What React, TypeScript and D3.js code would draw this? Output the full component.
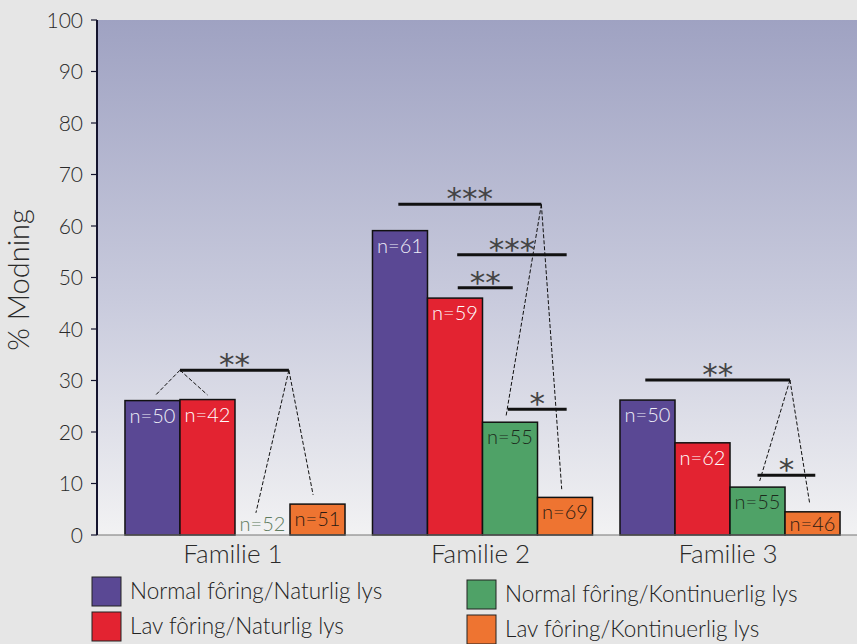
import React from "react";
import * as d3 from "d3";

const groups = ["Familie 1", "Familie 2", "Familie 3"];
const seriesNames = [
  "Normal fôring/Naturlig lys",
  "Lav fôring/Naturlig lys",
  "Normal fôring/Kontinuerlig lys",
  "Lav fôring/Kontinuerlig lys",
];
const seriesColors = ["#5a4894", "#e32331", "#4fa267", "#ee7431"];
const labelColors = ["#eeeef8", "#ffffff", "#1c2a1c", "#2a1a12"];

// % maturation per family for each series
const normalNaturlig = [26.1, 59.1, 26.2];
const lavNaturlig = [26.3, 46.0, 17.9];
const normalKontinuerlig = [0, 21.9, 9.3];
const lavKontinuerlig = [6.0, 7.3, 4.5];
const seriesValues = [normalNaturlig, lavNaturlig, normalKontinuerlig, lavKontinuerlig];

const nNormalNaturlig = ["n=50", "n=61", "n=50"];
const nLavNaturlig = ["n=42", "n=59", "n=62"];
const nNormalKontinuerlig = ["n=52", "n=55", "n=55"];
const nLavKontinuerlig = ["n=51", "n=69", "n=46"];
const seriesN = [nNormalNaturlig, nLavNaturlig, nNormalKontinuerlig, nLavKontinuerlig];

const yTicks = [0, 10, 20, 30, 40, 50, 60, 70, 80, 90, 100];

// significance brackets: group, start/end positions in bar units, level (%), stars
const brackets = [
  { g: 0, x1: 1.0, x2: 2.98, level: 32, stars: "**" },
  { g: 1, x1: 0.47, x2: 3.07, level: 64.2, stars: "***" },
  { g: 1, x1: 1.54, x2: 3.53, level: 54.4, stars: "***" },
  { g: 1, x1: 1.55, x2: 2.55, level: 48.0, stars: "**" },
  { g: 1, x1: 2.46, x2: 3.53, level: 24.4, stars: "*" },
  { g: 2, x1: 0.46, x2: 3.09, level: 30.1, stars: "**" },
  { g: 2, x1: 2.5, x2: 3.55, level: 11.6, stars: "*" },
];
// dashed connectors: group, apex (pos, level) -> end (pos, level)
const connectors = [
  { g: 0, ax: 1.0, ay: 32, bx: 0.56, by: 27.2 },
  { g: 0, ax: 1.0, ay: 32, bx: 1.5, by: 27.2 },
  { g: 0, ax: 2.98, ay: 32, bx: 2.38, by: 4.3 },
  { g: 0, ax: 2.98, ay: 32, bx: 3.42, by: 7.8 },
  { g: 1, ax: 3.07, ay: 64.2, bx: 2.43, by: 23.2 },
  { g: 1, ax: 3.07, ay: 64.2, bx: 3.44, by: 8.9 },
  { g: 2, ax: 3.09, ay: 30.1, bx: 2.54, by: 10.5 },
  { g: 2, ax: 3.09, ay: 30.1, bx: 3.45, by: 6.0 },
];

const W = 857;
const H = 644;
const left = 97;
const top = 20;
const bottom = 535;
const FONT = "Lato, 'Open Sans', sans-serif";

export default function App() {
  const y = d3.scaleLinear().domain([0, 100]).range([bottom, top]);
  const x0 = d3
    .scaleBand<string>()
    .domain(groups)
    .range([left, 868])
    .paddingInner(0.111)
    .paddingOuter(0.113);
  const x1 = d3
    .scaleBand<number>()
    .domain([0, 1, 2, 3])
    .range([0, x0.bandwidth()]);
  const bw = x1.bandwidth();
  const px = (g: number, pos: number) => (x0(groups[g]) as number) + pos * bw;

  return (
    <svg
      width={W}
      height={H}
      style={{ position: "absolute", left: 0, top: 0, background: "#e6e6e6" }}
      fontFamily={FONT}
    >
      <defs>
        <linearGradient id="bg" x1="0" y1="0" x2="0" y2="1">
          <stop offset="0%" stopColor="#9fa2c2" />
          <stop offset="55%" stopColor="#c9cbdd" />
          <stop offset="100%" stopColor="#f2f2f3" />
        </linearGradient>
      </defs>
      <rect x={0} y={0} width={W} height={H} fill="#e6e6e6" />
      <rect x={left} y={top} width={W - left} height={bottom - top} fill="url(#bg)" />

      {/* bars */}
      {groups.map((g, gi) =>
        seriesValues.map((vals, si) => {
          const v = vals[gi];
          const bx = (x0(g) as number) + (x1(si) as number);
          return (
            <rect
              key={`b-${gi}-${si}`}
              x={bx}
              y={y(v)}
              width={bw}
              height={bottom - y(v)}
              fill={seriesColors[si]}
              stroke="#111"
              strokeWidth={1.5}
            />
          );
        })
      )}

      {/* n labels */}
      {groups.map((g, gi) =>
        seriesValues.map((vals, si) => {
          const v = vals[gi];
          const bx = (x0(g) as number) + (x1(si) as number);
          const base = Math.min(y(v) + 22, bottom - 4);
          const col = v < 1 ? "#5e7b5e" : labelColors[si];
          return (
            <text
              key={`n-${gi}-${si}`}
              x={bx + bw / 2}
              y={base}
              textAnchor="middle"
              fontSize={20}
              fontWeight={300}
              fill={col}
            >
              {seriesN[si][gi]}
            </text>
          );
        })
      )}

      {/* axes */}
      <line x1={left} x2={W} y1={bottom} y2={bottom} stroke="#777" strokeWidth={1.2} />
      <line x1={left} x2={left} y1={top} y2={bottom} stroke="#14142e" strokeWidth={2} />
      {yTicks.map((t) => (
        <g key={`t-${t}`}>
          <line x1={left - 6} x2={left} y1={y(t)} y2={y(t)} stroke="#14142e" strokeWidth={1.2} />
          <text x={left - 14} y={y(t) + 7.5} textAnchor="end" fontSize={21} fontWeight={300} fill="#2a2a2a">
            {t}
          </text>
        </g>
      ))}
      <text
        transform={`translate(29, 280) rotate(-90)`}
        textAnchor="middle"
        fontSize={29}
        fontWeight={300}
        fill="#2a2a2a"
      >
        % Modning
      </text>
      {groups.map((g) => (
        <text
          key={`c-${g}`}
          x={(x0(g) as number) + x0.bandwidth() / 2 - 2}
          y={563}
          textAnchor="middle"
          fontSize={26}
          fontWeight={300}
          fill="#2a2a2a"
        >
          {g}
        </text>
      ))}

      {/* connectors */}
      {connectors.map((c, i) => (
        <line
          key={`d-${i}`}
          x1={px(c.g, c.ax)}
          y1={y(c.ay)}
          x2={px(c.g, c.bx)}
          y2={y(c.by)}
          stroke="#111"
          strokeWidth={1}
          strokeDasharray="4,2"
        />
      ))}
      {/* brackets */}
      {brackets.map((b, i) => (
        <g key={`s-${i}`}>
          <line
            x1={px(b.g, b.x1)}
            x2={px(b.g, b.x2)}
            y1={y(b.level)}
            y2={y(b.level)}
            stroke="#111"
            strokeWidth={3}
          />
          <text
            x={(px(b.g, b.x1) + px(b.g, b.x2)) / 2}
            y={y(b.level) + 5}
            textAnchor="middle"
            fontSize={31}
            fill="#444"
            fontFamily="'DejaVu Sans', sans-serif"
          >
            {b.stars}
          </text>
        </g>
      ))}

      {/* legend */}
      {seriesNames.map((name, i) => {
        const col = Math.floor(i / 2);
        const row = i % 2;
        const lx = col === 0 ? 92 : 467;
        const ly = (col === 0 ? 577 : 580) + row * 35;
        return (
          <g key={`l-${i}`}>
            <rect x={lx} y={ly} width={29} height={29} fill={seriesColors[i]} stroke="#222" strokeWidth={1} />
            <text x={lx + 38} y={ly + 22} fontSize={22.5} fontWeight={300} fill="#222">
              {name}
            </text>
          </g>
        );
      })}
    </svg>
  );
}
